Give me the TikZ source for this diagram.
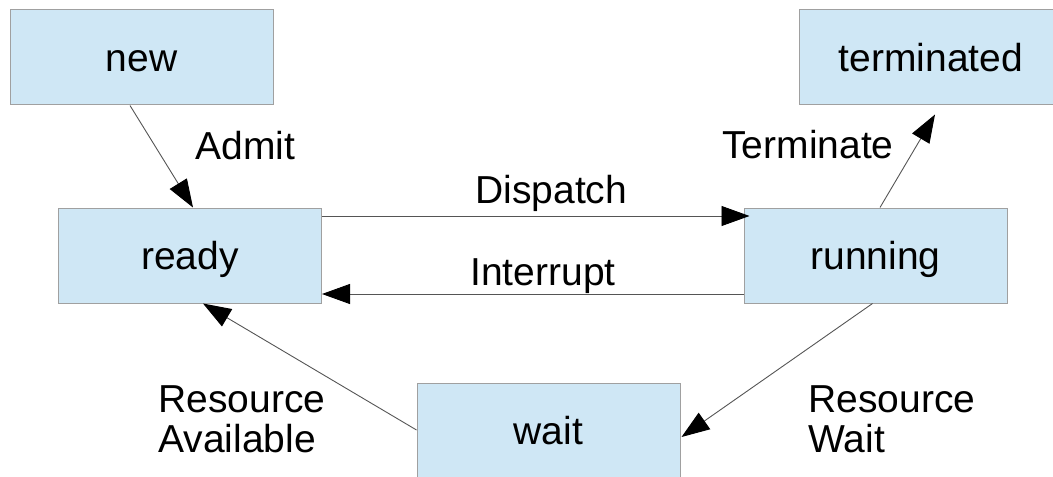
\documentclass[tikz,border=0pt]{standalone}
\usepackage{fontspec}
\setmainfont{Liberation Sans}
\usetikzlibrary{arrows.meta,calc}
\definecolor{statefill}{HTML}{CFE7F5}
\definecolor{stateline}{HTML}{A0A0A0}
\definecolor{wire}{HTML}{555555}
\tikzset{
  state/.style={rectangle, draw=stateline, fill=statefill, line width=0.5pt,
    minimum width=131.5pt, minimum height=47.5pt, inner sep=0pt,
    text height=17.65pt, text depth=4.13pt},
  trans/.style={draw=wire, line width=0.45pt,
    -{Triangle[length=14pt,width=10pt,color=black]}},
  lbl/.style={inner sep=0pt, anchor=base west, align=left}
}
\begin{document}
\begin{tikzpicture}[x=0.5pt, y=-0.5pt,
  every node/.style={font=\fontsize{19.5pt}{20pt}\selectfont}]
  \useasboundingbox (0,0) rectangle (1053,476);
  \clip (0,0) rectangle (1053,476);

  % process states
  \node[state] (new)        at (141.5,57.5)  {new};
  \node[state] (terminated) at (931,57.5)    {terminated};
  \node[state] (ready)      at (190,255.5)   {ready};
  \node[state] (running)    at (875.5,255.5) {running};
  \node[state] (wait)       at (548.5,430.5) {wait};

  % transitions
  \draw[trans] ($(new.south)+(-11.5,0)$) -- ($(ready.north)+(3,0)$);
  \draw[trans, shorten >=-3pt] ($(ready.east)+(0,-39.5)$) -- ($(running.west)+(0,-39.5)$);
  \draw[trans] ($(running.west)+(0,38.5)$) -- ($(ready.east)+(0,38.5)$);
  \draw[trans] ($(running.north)+(4.5,0)$) -- ($(terminated.south)+(4,9)$);
  \draw[trans] ($(running.south)+(-3,0)$) -- ($(wait.east)+(1,6.5)$);
  \draw[trans] ($(wait.west)+(0,-0.5)$) -- ($(ready.south)+(13,0)$);

  % transition labels (two-line labels are placed by their last baseline)
  \node[lbl] (admit)     at (195,159) {Admit};
  \node[lbl] (terminate) at (722,158) {Terminate};
  \node[lbl] (dispatch)  at (475,203) {Dispatch};
  \node[lbl] (interrupt) at (470,285) {Interrupt};
  \node[lbl] (resavail)  at (158,452) {Resource\\Available};
  \node[lbl] (reswait)   at (808,452) {Resource\\Wait};
\end{tikzpicture}
\end{document}
